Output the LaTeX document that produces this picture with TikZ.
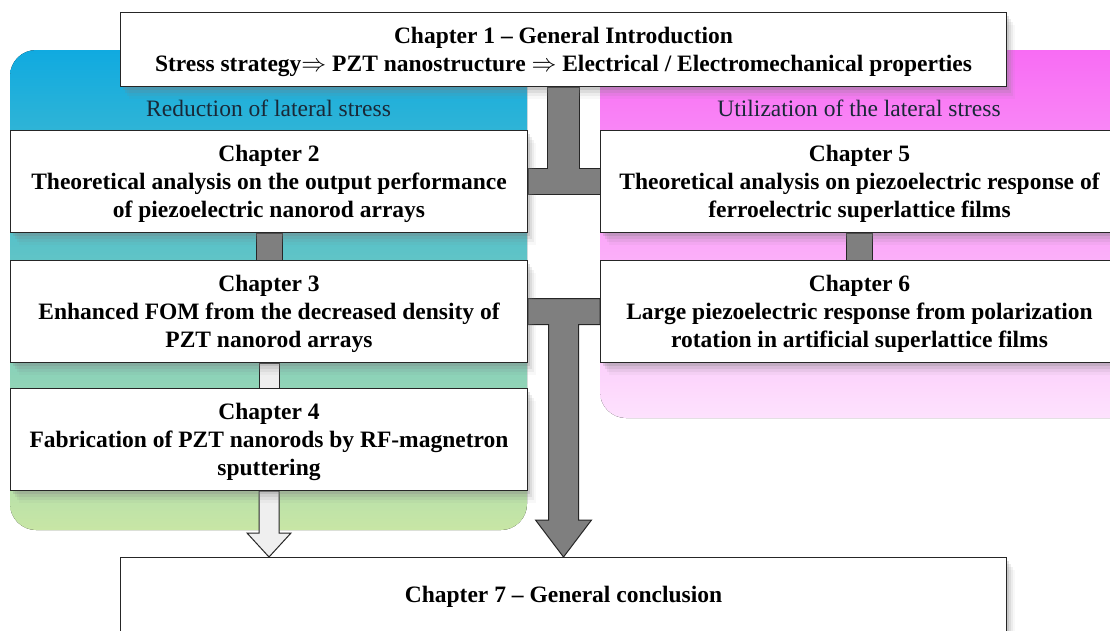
\documentclass[tikz,border=0pt]{standalone}
\usepackage{fontspec}
\setmainfont{Liberation Serif}
\usetikzlibrary{calc,shadows}
\pgfdeclarelayer{bg}
\pgfsetlayers{bg,main}
\definecolor{regA}{RGB}{16,170,224}
\definecolor{regB}{RGB}{96,198,184}
\definecolor{regC}{RGB}{200,230,165}
\definecolor{pinkA}{RGB}{248,108,244}
\definecolor{pinkB}{RGB}{253,226,253}
\definecolor{conndark}{RGB}{127,127,127}
\definecolor{connlight}{RGB}{239,239,239}
\definecolor{lbltext}{RGB}{25,40,55}
\newcommand\topstrut{\rule{0pt}{21pt}}
\begin{document}
\begin{tikzpicture}[x=1pt,y=-1pt,
  softshadow/.style={drop shadow={opacity=0.22,shadow xshift=2pt,shadow yshift=-3pt},
                     drop shadow={opacity=0.15,shadow xshift=4pt,shadow yshift=-6pt},
                     drop shadow={opacity=0.10,shadow xshift=6pt,shadow yshift=-9pt},
                     drop shadow={opacity=0.06,shadow xshift=8pt,shadow yshift=-12pt}},
  box/.style={draw=black!85, line width=1pt, fill=white, align=center,
              font=\bfseries\fontsize{23.5}{28}\selectfont, inner sep=0pt,
              anchor=north west, softshadow},
  lbl/.style={font=\fontsize{23.5}{28}\selectfont, text=lbltext},
  darkconn/.style={fill=conndark, draw=black!85, line width=1pt, line join=miter},
  lightconn/.style={fill=connlight, draw=black!85, line width=1pt, line join=miter}]
\useasboundingbox (0,0) rectangle (1110,630);
\clip (0,0) rectangle (1110,630);

% chapter boxes
\node[box, minimum width=886pt, minimum height=74pt] (ch1) at (120,12)
  {\topstrut Chapter 1 -- General Introduction\\Stress strategy$\Rightarrow$ PZT nanostructure $\Rightarrow$ Electrical / Electromechanical properties};
\node[box, minimum width=517pt, minimum height=102pt] (ch2) at (10,130)
  {\topstrut Chapter 2\\Theoretical analysis on the output performance\\of piezoelectric nanorod arrays};
\node[box, minimum width=517pt, minimum height=102pt] (ch3) at (10,260)
  {\topstrut Chapter 3\\Enhanced FOM from the decreased density of\\PZT nanorod arrays};
\node[box, minimum width=517pt, minimum height=102pt] (ch4) at (10,388)
  {\topstrut Chapter 4\\Fabrication of PZT nanorods by RF-magnetron\\sputtering};
\node[box, minimum width=518pt, minimum height=102pt] (ch5) at (600,130)
  {\topstrut Chapter 5\\Theoretical analysis on piezoelectric response of\\ferroelectric superlattice films};
\node[box, minimum width=518pt, minimum height=102pt] (ch6) at (600,260)
  {\topstrut Chapter 6\\Large piezoelectric response from polarization\\rotation in artificial superlattice films};
\node[box, minimum width=886pt, minimum height=78pt] (ch7) at (120,557)
  {Chapter 7 -- General conclusion};

\begin{pgfonlayer}{bg}
  % background regions
  \fill[rounded corners=26pt, top color=regA, middle color=regB, bottom color=regC]
    (10,50) rectangle (527,530);
  \fill[rounded corners=26pt, top color=pinkA, bottom color=pinkB]
    (600,50) rectangle (1150,418);
  \node[lbl] (lblL) at (268.5,108) {Reduction of lateral stress};
  \node[lbl] (lblR) at (859,108) {Utilization of the lateral stress};

  % connector from chapter 1
  \coordinate (j1) at (ch1.south |- ch2.east);
  \draw[darkconn] ($(ch1.south)+(-16,0)$) -- ($(j1)+(-16,-13)$) -- ($(ch2.east)+(0,-13)$)
    -- ($(ch2.east)+(0,13)$) -- ($(ch5.west)+(0,13)$) -- ($(ch5.west)+(0,-13)$)
    -- ($(j1)+(16,-13)$) -- ($(ch1.south)+(16,0)$) -- cycle;

  % small links
  \draw[darkconn] ($(ch2.south)+(-13,0)$) rectangle ($(ch3.north)+(13,0)$);
  \draw[darkconn] ($(ch5.south)+(-13,0)$) rectangle ($(ch6.north)+(13,0)$);
  \draw[lightconn] ($(ch3.south)+(-10,0)$) rectangle ($(ch4.north)+(10,0)$);

  % big T arrow to chapter 7
  \coordinate (j2) at (ch1.south |- ch3.east);
  \coordinate (t2) at (ch1.south |- ch7.north);
  \draw[darkconn] ($(ch3.east)+(0,-13)$) -- ($(ch6.west)+(0,-13)$) -- ($(ch6.west)+(0,13)$)
    -- ($(j2)+(15,13)$) -- ($(t2)+(15,-37)$) -- ($(t2)+(28,-37)$) -- (t2)
    -- ($(t2)+(-28,-37)$) -- ($(t2)+(-15,-37)$) -- ($(j2)+(-15,13)$)
    -- ($(ch3.east)+(0,13)$) -- cycle;

  % light arrow chapter 4 -> chapter 7
  \coordinate (t4) at (ch4.south |- ch7.north);
  \draw[lightconn] ($(ch4.south)+(-10,0)$) -- ($(t4)+(-10,-24)$) -- ($(t4)+(-22,-24)$)
    -- (t4) -- ($(t4)+(22,-24)$) -- ($(t4)+(10,-24)$) -- ($(ch4.south)+(10,0)$) -- cycle;
\end{pgfonlayer}
\end{tikzpicture}
\end{document}
